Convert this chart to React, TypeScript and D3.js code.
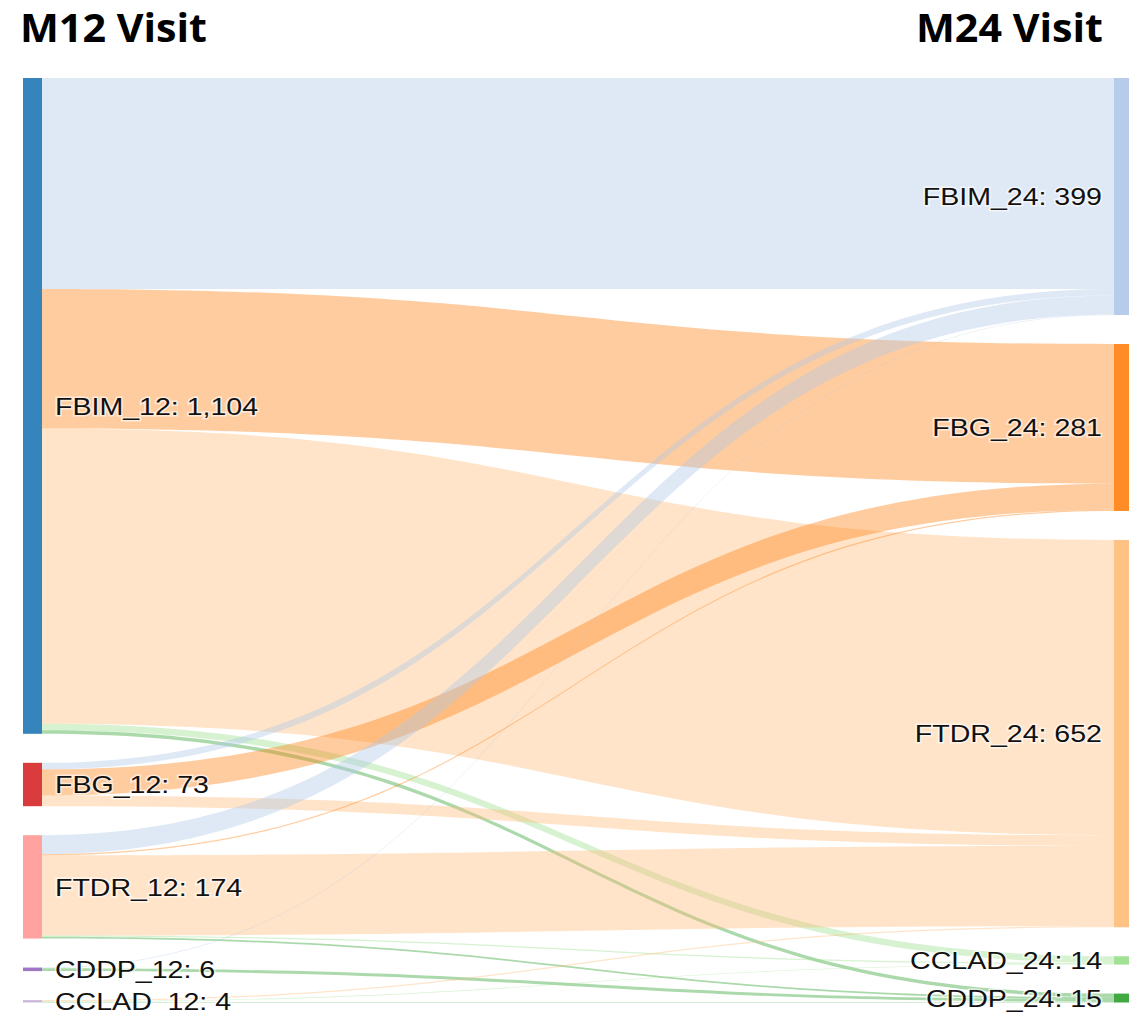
import React, { useEffect } from 'react';
import * as d3 from 'd3';

// nodes at each visit, top to bottom
const m12Nodes = ['FBIM_12', 'FBG_12', 'FTDR_12', 'CDDP_12', 'CCLAD_12'];
const m24Nodes = ['FBIM_24', 'FBG_24', 'FTDR_24', 'CCLAD_24', 'CDDP_24'];
const m12Colors = ['#1f77b4', '#d62728', '#ff9896', '#9467bd', '#c5b0d5'];
const m24Colors = ['#aec7e8', '#ff7f0e', '#ffbb78', '#98df8a', '#2ca02c'];

// transitions M12 -> M24
const linkSources = [
  'FBIM_12', 'FBIM_12', 'FBIM_12', 'FBIM_12', 'FBIM_12',
  'FBG_12', 'FBG_12', 'FBG_12',
  'FTDR_12', 'FTDR_12', 'FTDR_12', 'FTDR_12', 'FTDR_12',
  'CDDP_12', 'CDDP_12',
  'CCLAD_12', 'CCLAD_12', 'CCLAD_12',
];
const linkTargets = [
  'FBIM_24', 'FBG_24', 'FTDR_24', 'CCLAD_24', 'CDDP_24',
  'FBIM_24', 'FBG_24', 'FTDR_24',
  'FBIM_24', 'FBG_24', 'FTDR_24', 'CCLAD_24', 'CDDP_24',
  'FBIM_24', 'CDDP_24',
  'FTDR_24', 'CCLAD_24', 'CDDP_24',
];
const linkValues = [
  355, 235, 497, 11, 6,
  11, 44, 18,
  32, 2, 135, 2, 3,
  1, 5,
  2, 1, 1,
];

const titles = ['M12 Visit', 'M24 Visit'];

const W = 1129;
const H = 1013;

function layout() {
  const top = 78, bottom = 1002.5, pad = 29, nodeW = 19;
  const links = linkValues.map((v, i) => ({ source: linkSources[i], target: linkTargets[i], value: v, sy0: 0, ty0: 0 }));
  const cols = [m12Nodes, m24Nodes];
  const colColors = [m12Colors, m24Colors];
  const xCol = d3.scaleLinear().domain([0, 1]).range([23, 1114]);

  const nodes: any[] = [];
  cols.forEach((names, c) => {
    names.forEach((name, i) => {
      const out = d3.sum(links.filter(l => l.source === name), l => l.value);
      const inn = d3.sum(links.filter(l => l.target === name), l => l.value);
      nodes.push({ name, col: c, color: colColors[c][i], value: Math.max(out, inn) });
    });
  });
  const total = d3.sum(nodes.filter(n => n.col === 0), n => n.value);
  const ky = d3.scaleLinear().domain([0, total]).range([0, bottom - top - pad * (m12Nodes.length - 1)]);

  [0, 1].forEach(c => {
    let y = top;
    nodes.filter(n => n.col === c).forEach(n => {
      n.x0 = xCol(c);
      n.x1 = n.x0 + nodeW;
      n.y0 = y;
      n.y1 = y + ky(n.value);
      y = n.y1 + pad;
    });
  });
  const byName = new Map(nodes.map(n => [n.name, n]));

  nodes.forEach(n => {
    let y = n.y0;
    links.filter(l => l.source === n.name)
      .sort((a, b) => byName.get(a.target).y0 - byName.get(b.target).y0)
      .forEach(l => { l.sy0 = y; y += ky(l.value); });
    y = n.y0;
    links.filter(l => l.target === n.name)
      .sort((a, b) => byName.get(a.source).y0 - byName.get(b.source).y0)
      .forEach(l => { l.ty0 = y; y += ky(l.value); });
  });

  const paths = links.map(l => {
    const s = byName.get(l.source), t = byName.get(l.target);
    const w = ky(l.value);
    const x0 = s.x1, x1 = t.x0;
    const xi = d3.interpolateNumber(x0, x1);
    const c0 = xi(0.5), c1 = xi(0.5);
    const sy1 = l.sy0 + w, ty1 = l.ty0 + w;
    const p = d3.path();
    p.moveTo(x0, l.sy0);
    p.bezierCurveTo(c0, l.sy0, c1, l.ty0, x1, l.ty0);
    p.lineTo(x1, ty1);
    p.bezierCurveTo(c1, ty1, c0, sy1, x0, sy1);
    p.closePath();
    return { d: p.toString(), color: t.color };
  });

  return { nodes, paths };
}

export default function App() {
  useEffect(() => {
    document.body.style.margin = '0';
  }, []);

  const { nodes, paths } = layout();
  const fmt = d3.format(',');
  const sx = 1.19;

  return (
    <div style={{ position: 'absolute', left: 0, top: 0 }}>
      <svg width={W} height={H} style={{ display: 'block', background: '#fff' }}>
        <g>
          {paths.map((p, i) => (
            <path key={i} d={p.d} fill={p.color} fillOpacity={0.4} />
          ))}
        </g>
        <g>
          {nodes.map(n => (
            <rect key={n.name} x={n.x0} y={n.y0} width={n.x1 - n.x0} height={Math.max(1, n.y1 - n.y0)}
              fill={n.color} fillOpacity={0.9} />
          ))}
        </g>
        <g fontFamily="'Liberation Sans', Arial, sans-serif" fontSize={24} fill="#111">
          {nodes.map(n => {
            const left = n.col === 0;
            const x = left ? n.x1 + 13 : n.x0 - 12;
            const y = (n.y0 + n.y1) / 2;
            return (
              <g key={n.name} transform={`translate(${x},${y}) scale(${sx},1)`}>
                <text textAnchor={left ? 'start' : 'end'} dy="0.36em"
                  stroke="#fff" strokeWidth={3} strokeOpacity={0.6} paintOrder="stroke">
                  {`${n.name}: ${fmt(n.value)}`}
                </text>
              </g>
            );
          })}
        </g>
        <g fontFamily="'Open Sans', sans-serif" fontWeight="bold" fontSize={40} fill="#000">
          <text x={20} y={42} textLength={187} lengthAdjust="spacingAndGlyphs">{titles[0]}</text>
          <text x={916} y={42} textLength={187} lengthAdjust="spacingAndGlyphs">{titles[1]}</text>
        </g>
      </svg>
    </div>
  );
}
